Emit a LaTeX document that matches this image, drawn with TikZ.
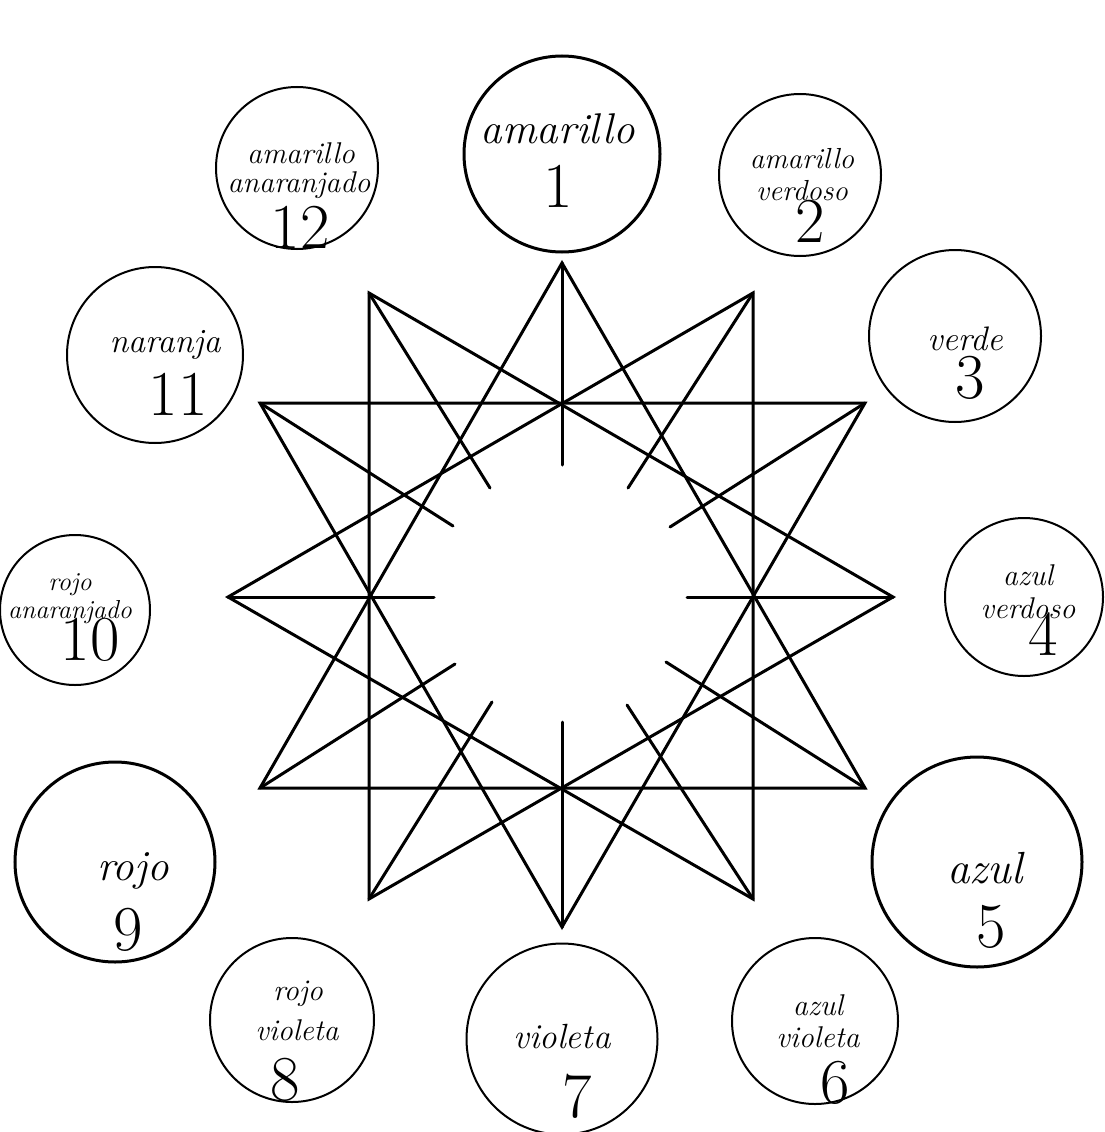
\documentclass[tikz,border=0pt]{standalone}
\begin{document}
\begin{tikzpicture}[x=1pt,y=-1pt,
  starline/.style={line width=3pt,line cap=round,line join=miter},
  ring/.style={draw,circle,line width=2pt,inner sep=0pt},
  thickring/.style={draw,circle,line width=3pt,inner sep=0pt},
  word/.style={inner sep=0pt,anchor=base,font=\itshape},
  num/.style={inner sep=0pt,anchor=base,font=\fontsize{64}{64}\selectfont}]
\useasboundingbox (0,0) rectangle (1104,1132);
% star vertices
\coordinate (T) at (562,263);
\coordinate (B) at (562,927);
\coordinate (L) at (228,597);
\coordinate (R) at (893,597);
\coordinate (TL) at (369,293);
\coordinate (TR) at (753,293);
\coordinate (BL) at (369,899);
\coordinate (BR) at (753,899);
\coordinate (UL) at (260,403);
\coordinate (UR) at (865,403);
\coordinate (DL) at (260,788);
\coordinate (DR) at (865,788);
% inner tick ends
\coordinate (iT) at (562,465);
\coordinate (iB) at (562,722);
\coordinate (iL) at (434,597);
\coordinate (iR) at (687,597);
\coordinate (iTL) at (490,488);
\coordinate (iTR) at (628,488);
\coordinate (iBL) at (492,702);
\coordinate (iBR) at (627,705);
\coordinate (iUL) at (453,526);
\coordinate (iUR) at (670,527);
\coordinate (iDL) at (455,664);
\coordinate (iDR) at (666,662);
% four triangles
\draw[starline] (T) -- (DL) -- (DR) -- cycle;
\draw[starline] (B) -- (UL) -- (UR) -- cycle;
\draw[starline] (L) -- (TR) -- (BR) -- cycle;
\draw[starline] (R) -- (TL) -- (BL) -- cycle;
% inward ticks
\foreach \p in {T,B,L,R,TL,TR,BL,BR,UL,UR,DL,DR}
  \draw[starline] (\p) -- (i\p);
% circles
\node[thickring,minimum size=196pt] (c1) at (562,154) {};
\node[ring,minimum size=162pt] (c2) at (800,175) {};
\node[ring,minimum size=172pt] (c3) at (955,336) {};
\node[ring,minimum size=158pt] (c4) at (1024,597) {};
\node[thickring,minimum size=210pt] (c5) at (977,862) {};
\node[ring,minimum size=166pt] (c6) at (815,1021) {};
\node[ring,minimum size=191pt] (c7) at (562,1039) {};
\node[ring,minimum size=164pt] (c8) at (292,1020) {};
\node[thickring,minimum size=200pt] (c9) at (115,862) {};
\node[ring,minimum size=150pt] (c10) at (75,610) {};
\node[ring,minimum size=176pt] (c11) at (155,355) {};
\node[ring,minimum size=162pt] (c12) at (297,168) {};
% labels
\node[word,font=\itshape\fontsize{43}{43}\selectfont] (t1) at (558,143) {amarillo};
\node[num] (n1) at (558,207) {1};
\node[word,font=\itshape\fontsize{29}{29}\selectfont] (t2a) at (802,168) {amarillo};
\node[word,font=\itshape\fontsize{29}{29}\selectfont] (t2b) at (802,200) {verdoso};
\node[num] (n2) at (810,242) {2};
\node[word,font=\itshape\fontsize{34}{34}\selectfont] (t3) at (965,350) {verde};
\node[num] (n3) at (970,398) {3};
\node[word,font=\itshape\fontsize{30}{30}\selectfont] (t4a) at (1028,585) {azul};
\node[word,font=\itshape\fontsize{30}{30}\selectfont] (t4b) at (1028,618) {verdoso};
\node[num] (n4) at (1043,655) {4};
\node[word,font=\itshape\fontsize{45}{45}\selectfont] (t5) at (985,883) {azul};
\node[num] (n5) at (991,947) {5};
\node[word,font=\itshape\fontsize{30}{30}\selectfont] (t6a) at (818,1015) {azul};
\node[word,font=\itshape\fontsize{30}{30}\selectfont] (t6b) at (818,1047) {violeta};
\node[num] (n6) at (835,1103) {6};
\node[word,font=\itshape\fontsize{35}{35}\selectfont] (t7) at (562,1048) {violeta};
\node[num] (n7) at (577,1117) {7};
\node[word,font=\itshape\fontsize{30}{30}\selectfont] (t8a) at (298,1000) {rojo};
\node[word,font=\itshape\fontsize{30}{30}\selectfont] (t8b) at (297,1040) {violeta};
\node[num] (n8) at (285,1100) {8};
\node[word,font=\itshape\fontsize{43}{43}\selectfont] (t9) at (133,880) {rojo};
\node[num] (n9) at (128,950) {9};
\node[word,font=\itshape\fontsize{26}{26}\selectfont] (t10a) at (70,590) {rojo};
\node[word,font=\itshape\fontsize{26}{26}\selectfont] (t10b) at (70,618) {anaranjado};
\node[num] (n10) at (90,660) {10};
\node[word,font=\itshape\fontsize{34}{34}\selectfont] (t11) at (165,352) {naranja};
\node[num] (n11) at (178,415) {11};
\node[word,font=\itshape\fontsize{30}{30}\selectfont] (t12a) at (301,163) {amarillo};
\node[word,font=\itshape\fontsize{30}{30}\selectfont] (t12b) at (299,192) {anaranjado};
\node[num] (n12) at (300,248) {12};
\end{tikzpicture}
\end{document}
